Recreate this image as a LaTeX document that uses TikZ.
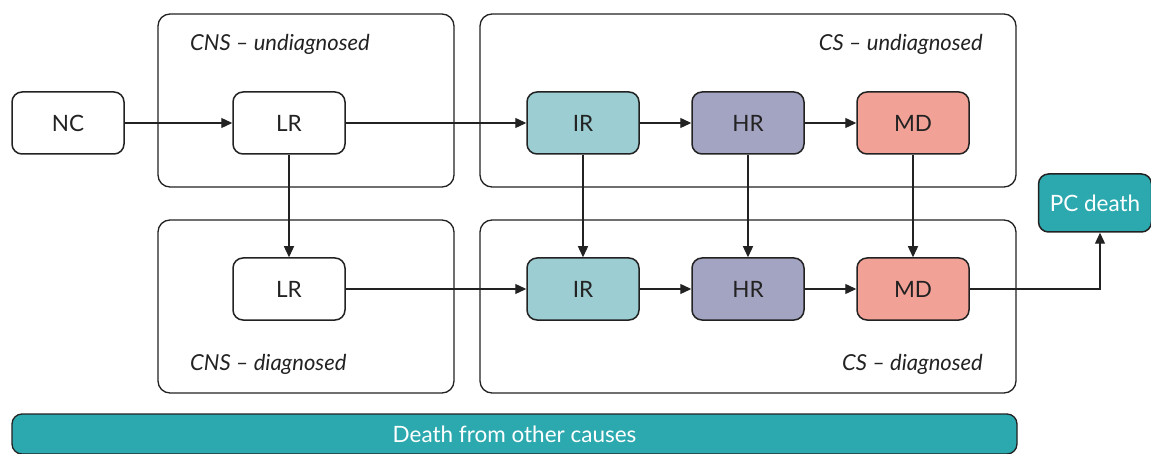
\documentclass[tikz,border=0pt]{standalone}
\usepackage{fontspec}
\setmainfont{Lato}
\usetikzlibrary{arrows.meta}
\definecolor{ink}{HTML}{222222}
\definecolor{irfill}{HTML}{9BCDD2}
\definecolor{hrfill}{HTML}{A3A3C2}
\definecolor{mdfill}{HTML}{F2A196}
\definecolor{teal}{HTML}{2CA9AF}
\tikzset{
  state/.style={draw=ink, line width=1.5pt, rounded corners=10pt,
    minimum width=112pt, minimum height=62pt, inner sep=0pt,
    font=\fontsize{22.5}{26}\selectfont, text=ink},
  group/.style={draw=ink, line width=1.3pt, rounded corners=12pt},
  grouplabel/.style={font=\fontsize{22}{26}\selectfont\itshape, text=ink, inner sep=0pt},
  flow/.style={draw=ink, line width=1.3pt, -{Triangle[length=11pt,width=10pt]}},
}
\begin{document}
\begin{tikzpicture}[x=1pt,y=-1pt]
\useasboundingbox (0,0) rectangle (1151,454);
\fill[white] (0,0) rectangle (1151,454);

% model compartments
\draw[group] (158,14) rectangle (454,187);
\draw[group] (480,14) rectangle (1016,187);
\draw[group] (158,220) rectangle (454,393);
\draw[group] (480,220) rectangle (1016,393);
\node[grouplabel, anchor=west] (lcnsu) at (190,44) {CNS – undiagnosed};
\node[grouplabel, anchor=east] (lcsu) at (983,44) {CS – undiagnosed};
\node[grouplabel, anchor=west] (lcnsd) at (190,364) {CNS – diagnosed};
\node[grouplabel, anchor=east] (lcsd) at (983,364) {CS – diagnosed};

% health states
\node[state, fill=white] (nc) at (68,123) {NC};
\node[state, fill=white] (lru) at (289,123) {LR};
\node[state, fill=irfill] (iru) at (583,123) {IR};
\node[state, fill=hrfill] (hru) at (748,123) {HR};
\node[state, fill=mdfill] (mdu) at (913,123) {MD};
\node[state, fill=white] (lrd) at (289,289) {LR};
\node[state, fill=irfill] (ird) at (583,289) {IR};
\node[state, fill=hrfill] (hrd) at (748,289) {HR};
\node[state, fill=mdfill] (mdd) at (913,289) {MD};
\node[state, fill=teal, text=white, minimum width=113pt, minimum height=58pt] (pc) at (1095,203) {PC death};

% other-cause mortality bar
\node[draw=ink, line width=1.3pt, fill=teal, rounded corners=10pt, minimum width=1005pt,
  minimum height=40pt, inner sep=0pt, text=white, font=\fontsize{22.5}{26}\selectfont] (oc) at (514.5,434) {Death from other causes};

% transitions
\draw[flow] (nc) -- (lru);
\draw[flow] (lru) -- (iru);
\draw[flow] (iru) -- (hru);
\draw[flow] (hru) -- (mdu);
\draw[flow] (lrd) -- (ird);
\draw[flow] (ird) -- (hrd);
\draw[flow] (hrd) -- (mdd);
\draw[flow] (lru) -- (lrd);
\draw[flow] (iru) -- (ird);
\draw[flow] (hru) -- (hrd);
\draw[flow] (mdu) -- (mdd);
\draw[flow] (mdd.east) -| ([xshift=5pt]pc.south);
\end{tikzpicture}
\end{document}
